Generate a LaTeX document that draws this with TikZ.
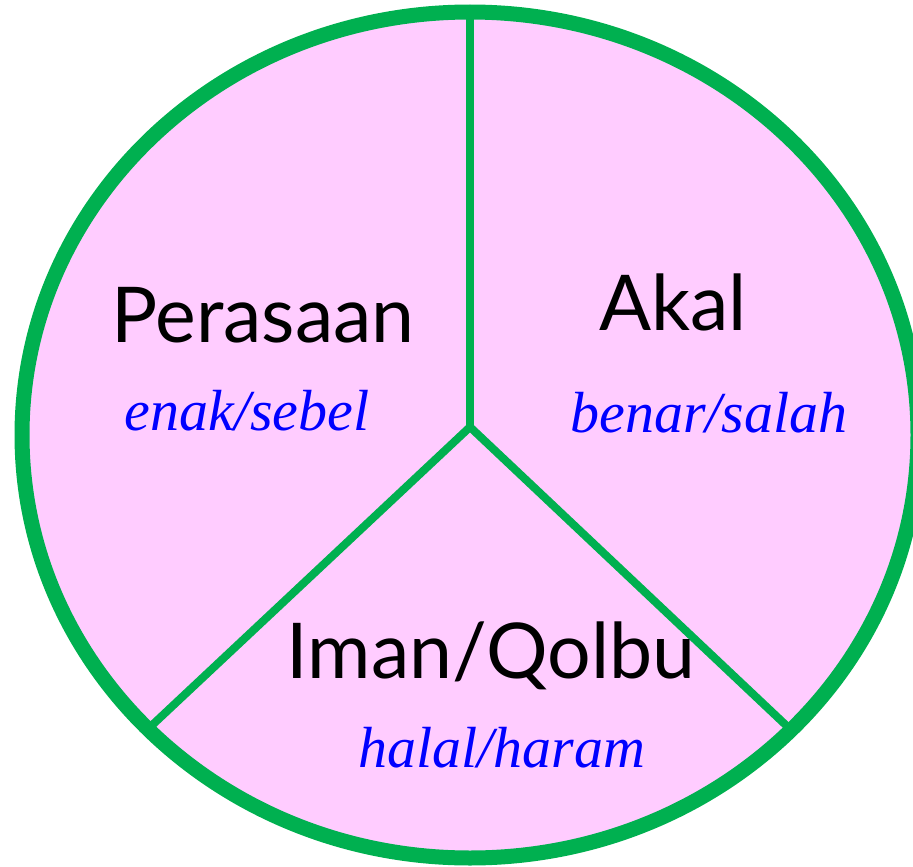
\documentclass[tikz,border=0pt]{standalone}
\usepackage{fontspec}
\newfontfamily\labelfont{Lato}
\newfontfamily\noteFont{Liberation Serif}
\definecolor{rimgreen}{HTML}{00B050}
\definecolor{slicepink}{HTML}{FFCCFF}
\definecolor{noteblue}{HTML}{0000FF}
\begin{document}
\begin{tikzpicture}[x=1pt,y=-1pt,
  divider/.style={draw=rimgreen,line width=8pt},
  rim/.style={draw=rimgreen,line width=15pt},
  title/.style={inner sep=0pt,anchor=base,font=\labelfont\fontsize{77}{77}\selectfont,text=black},
  note/.style={inner sep=0pt,anchor=base,font=\noteFont\itshape\fontsize{58}{58}\selectfont,text=noteblue}]
\useasboundingbox (0,0) rectangle (913,867);
\fill[slicepink] (470,435) ellipse [x radius=448pt, y radius=423pt];
\coordinate (c) at (470,427);
\coordinate (top) at (470,12);
\coordinate (bl) at (148,729);
\coordinate (br) at (790,729);
\draw[divider] (top) -- (c);
\draw[divider] (c) -- (bl);
\draw[divider] (c) -- (br);
\draw[rim] (470,435) ellipse [x radius=448pt, y radius=423pt];
\node[title] (perasaan) at (263,342) {Perasaan};
\node[note] (enak) at (247,430) {enak/sebel};
\node[title] (akal) at (673,330) {Akal};
\node[note] (benar) at (709,432) {benar/salah};
\node[title] (iman) at (491,678) {Iman/Qolbu};
\node[note] (halal) at (502,767) {halal/haram};
\end{tikzpicture}
\end{document}
